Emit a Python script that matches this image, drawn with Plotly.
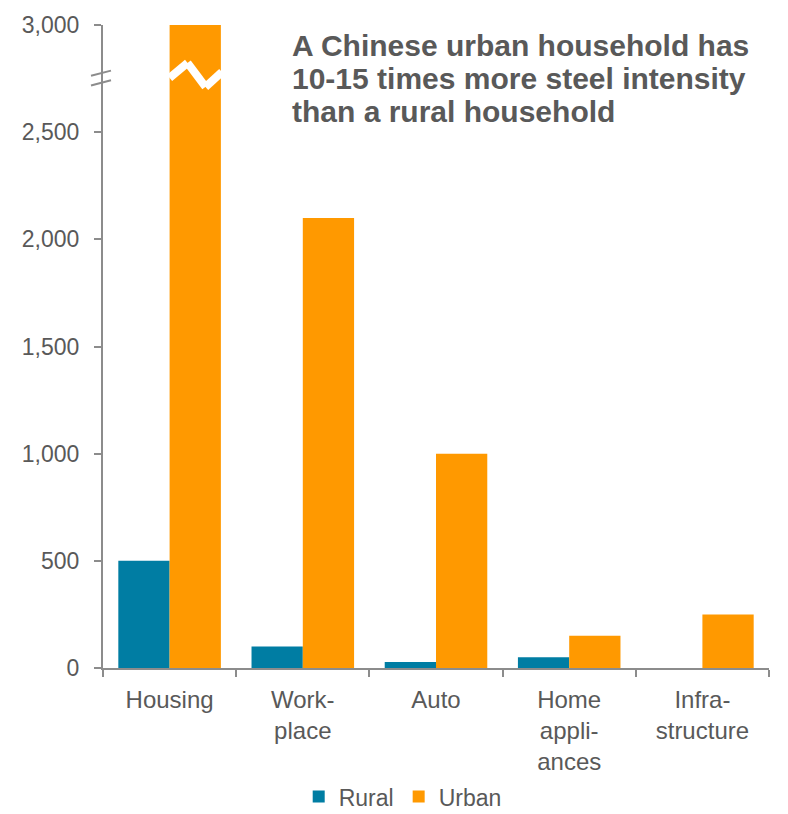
import plotly.graph_objects as go

# Steel intensity per household by end use
categories = ["Housing", "Work-<br>place", "Auto", "Home<br>appli-<br>ances", "Infra-<br>structure"]
rural = [500, 100, 28, 50, 0]
urban = [3000, 2100, 1000, 150, 250]
y_ticks = [0, 500, 1000, 1500, 2000, 2500, 3000]

TEAL = "#007DA3"
ORANGE = "#FF9900"
GREY_TEXT = "#595959"
AXIS = "#8C8C8C"
FONT = "Liberation Sans, Arial, sans-serif"
BARGAP = 0.23

fig = go.Figure()
fig.add_trace(go.Bar(name="Rural", x=categories, y=rural, marker_color=TEAL, marker_line_width=0))
fig.add_trace(go.Bar(name="Urban", x=categories, y=urban, marker_color=ORANGE, marker_line_width=0))

# White zig-zag across the truncated Housing/urban bar (bar spans 0 .. half group width)
half = (1 - BARGAP) / 2
zig_x = [0.0, 0.35 * half, 0.70 * half, 1.02 * half]
zig_y = [2753, 2823, 2711, 2781]
shapes = []
for i in range(len(zig_x) - 1):
    shapes.append(dict(type="line", xref="x", yref="y",
                       x0=zig_x[i], y0=zig_y[i], x1=zig_x[i + 1], y1=zig_y[i + 1],
                       line=dict(color="white", width=8)))

# Axis break mark on the y axis
for yb in (2730, 2775):
    shapes.append(dict(type="line", xref="paper", yref="y",
                       x0=-0.018, y0=yb - 12, x1=0.012, y1=yb + 12,
                       line=dict(color=AXIS, width=2)))

fig.update_layout(
    width=788, height=814,
    margin=dict(l=103, r=19, t=25, b=146, autoexpand=False),
    plot_bgcolor="white", paper_bgcolor="white",
    barmode="group", bargap=BARGAP, bargroupgap=0,
    font=dict(family=FONT, size=24, color=GREY_TEXT),
    shapes=shapes,
    showlegend=True,
    legend=dict(orientation="h", x=0.45, xanchor="center", y=-0.2, yanchor="middle",
                font=dict(size=23, color=GREY_TEXT), itemwidth=30,
                traceorder="normal"),
    xaxis=dict(showline=True, linecolor=AXIS, linewidth=2, ticks="outside",
               tickcolor=AXIS, ticklen=7, tickwidth=2, showgrid=False, automargin=False,
               tickson="boundaries", ticklabelstandoff=9,
               tickfont=dict(size=24, color=GREY_TEXT)),
    yaxis=dict(range=[0, 3000], tickvals=y_ticks, tickformat=",", showline=True,
               linecolor=AXIS, linewidth=2, ticks="outside", tickcolor=AXIS,
               ticklen=7, tickwidth=2, showgrid=False, zeroline=False, automargin=False,
               ticklabelstandoff=10, tickfont=dict(size=23, color=GREY_TEXT)),
)

title_lines = ["A Chinese urban household has",
               "10-15 times more steel intensity",
               "than a rural household"]
for i, line in enumerate(title_lines):
    fig.add_annotation(text="<b>" + line + "</b>", xref="paper", yref="paper",
                       x=(290 - 103) / 666, xanchor="left",
                       y=1 - (2 + 33 * i) / 643, yanchor="top", showarrow=False,
                       font=dict(family=FONT, size=30, color=GREY_TEXT))

fig.write_html("out.html")
